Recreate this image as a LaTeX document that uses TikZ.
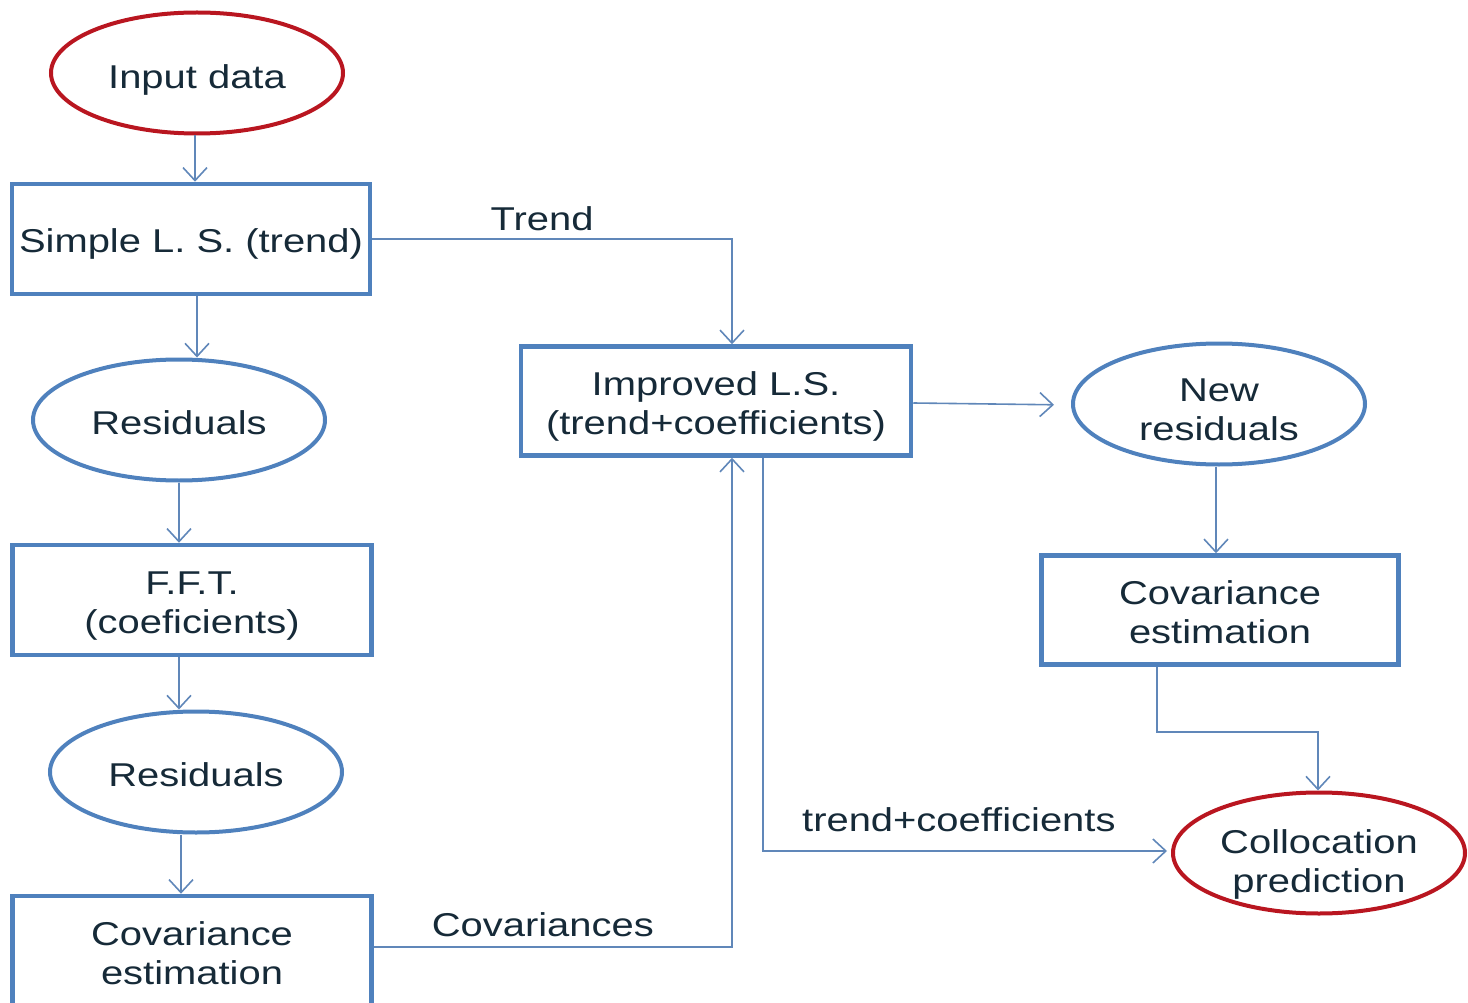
\documentclass[tikz,border=0pt]{standalone}
\usepackage{fontspec}
\setmainfont{Liberation Sans}[FakeStretch=1.21]
\usetikzlibrary{shapes.geometric,arrows.meta,calc}
\definecolor{boxblue}{RGB}{79,129,189}
\definecolor{linkblue}{RGB}{96,135,185}
\definecolor{ovalred}{RGB}{185,22,32}
\definecolor{txt}{RGB}{22,42,56}
\newcommand\T[2][6pt]{\raisebox{-#1}[\height][\depth]{\begin{tabular}{@{}c@{}}#2\end{tabular}}}
\begin{document}
\begin{tikzpicture}[x=1pt,y=-1pt,
  every node/.style={text=txt,font=\fontsize{33}{39}\selectfont},
  procbox/.style={draw=boxblue,line width=4.5pt,rectangle,inner sep=2pt},
  blueoval/.style={draw=boxblue,line width=4pt,ellipse,inner sep=0pt,minimum width=292pt,minimum height=121pt},
  redoval/.style={draw=ovalred,line width=4pt,ellipse,inner sep=0pt,minimum width=292pt,minimum height=121pt},
  arr/.style={draw=linkblue,line width=1.6pt,-{Straight Barb[length=13pt,width=24pt,line width=1.6pt]}},
  lbl/.style={inner sep=0pt}]
\useasboundingbox (0,0) rectangle (1468,1003);
\clip (0,0) rectangle (1468,1003);

\node[redoval]  (input)   at (197,73)  {\T[8pt]{Input data}};
\node[procbox,minimum width=358pt,minimum height=110pt] (simple) at (191,239) {\T{Simple L. S. (trend)}};
\node[blueoval] (res1)    at (179,420) {\T[7pt]{Residuals}};
\node[procbox,minimum width=359pt,minimum height=110pt] (fft) at (192,600) {\T{F.F.T.\\(coeficients)}};
\node[blueoval] (res2)    at (196,772) {\T[7pt]{Residuals}};
\node[procbox,minimum width=359pt,minimum height=110pt] (covL) at (192,951) {\T{Covariance\\estimation}};
\node[procbox,minimum width=390pt,minimum height=109pt] (improved) at (716,401) {\T{Improved L.S.\\(trend+coefficients)}};
\node[blueoval] (newres)  at (1219,404) {\T[9pt]{New\\residuals}};
\node[procbox,minimum width=357pt,minimum height=109pt] (covR) at (1220,610) {\T{Covariance\\estimation}};
\node[redoval]  (colloc)  at (1319,853) {\T[12pt]{Collocation\\prediction}};

\coordinate (a1) at ($(input.south)+(-2,0)$);
\coordinate (a2) at ($(simple.south)+(6,0)$);
\coordinate (a4) at ($(fft.south)+(-13,0)$);
\coordinate (a5) at ($(res2.south)+(-15,0)$);
\coordinate (tr) at ($(improved.north)+(16,0)$);
\coordinate (cv) at ($(improved.south)+(16,0)$);
\coordinate (cvs) at ($(covL.east)+(0,-4)$);
\coordinate (tc) at ($(improved.south)+(47,0)$);
\coordinate (ctw) at ($(colloc.west)+(0,-2)$);
\coordinate (ime) at ($(improved.east)+(0,2)$);
\coordinate (nrw) at ($(newres.west)+(0,1)$);
\coordinate (a10) at ($(newres.south)+(-3,0)$);
\coordinate (a11) at ($(covR.south)+(-63,0)$);
\coordinate (cln) at ($(colloc.north)+(-1,0)$);

\draw[arr] (a1) -- (a1 |- simple.north);
\draw[arr] (a2) -- (a2 |- res1.north);
\draw[arr] (res1.south) -- (res1.south |- fft.north);
\draw[arr] (a4) -- (a4 |- res2.north);
\draw[arr] (a5) -- (a5 |- covL.north);

\draw[arr] (simple.east) -| node[lbl,pos=0.236,above=7pt] (trendlbl) {Trend} (tr);
\draw[arr] (cvs) -| node[lbl,pos=0.236,above=9pt] (covlbl) {Covariances} (cv);
\draw[arr,shorten >=17pt] (ime) -- (nrw);
\draw[arr,shorten >=4pt] (tc) |- node[lbl,pos=0.74,above=18pt] (tclbl) {trend+coefficients} (ctw);
\draw[arr] (a10) -- (a10 |- covR.north);
\draw[arr] (a11) -- ++(0,65) -| (cln);
\end{tikzpicture}
\end{document}
